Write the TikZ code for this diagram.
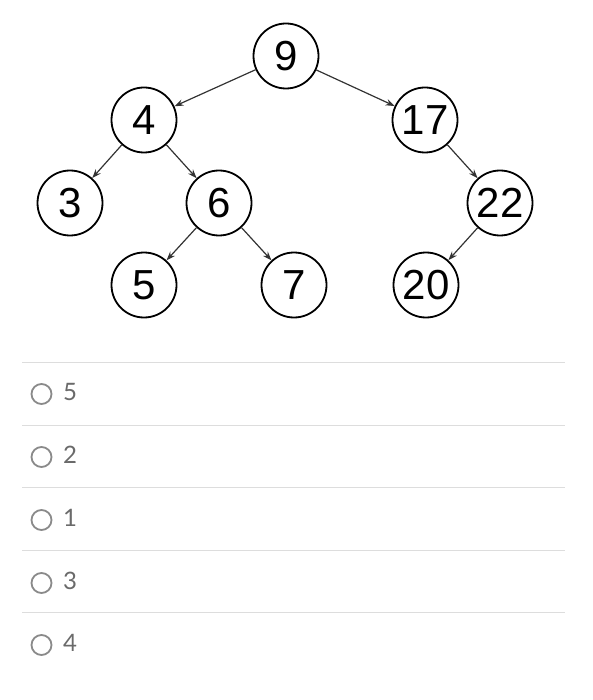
\documentclass[tikz,border=0pt]{standalone}
\usepackage{fontspec}
\usetikzlibrary{arrows.meta}
\newfontfamily\treefont{Liberation Sans}
\newfontfamily\optfont{Lato}
\definecolor{edgegray}{HTML}{333333}
\definecolor{rulegray}{HTML}{DDDDDD}
\definecolor{radiogray}{HTML}{8A8A8A}
\definecolor{optgray}{HTML}{6A6A6A}
\tikzset{
	vertex/.style={circle, draw=black, line width=1.8pt, minimum size=65pt, inner sep=0pt, font=\treefont\fontsize{42}{42}\selectfont},
	edge/.style={-{Stealth[length=9pt, width=6.5pt]}, edgegray, line width=1.2pt},
	radio/.style={circle, draw=radiogray, line width=1.8pt, minimum size=20pt, inner sep=0pt},
	option/.style={right, inner sep=0pt, optgray, font=\optfont\fontsize{24}{24}\selectfont},
	sep/.style={rulegray, line width=1pt}
}
\begin{document}
\begin{tikzpicture}[x=1pt, y=-1pt]
				\useasboundingbox (0,0) rectangle (592,700);
				\node[vertex] (n9) at (286,56) {9};
				\node[vertex] (n4) at (144,120) {4};
				\node[vertex] (n17) at (425,120) {17};
				\node[vertex] (n3) at (70,203) {3};
				\node[vertex] (n6) at (219,203) {6};
				\node[vertex] (n22) at (500,203) {22};
				\node[vertex] (n5) at (144,285) {5};
				\node[vertex] (n7) at (294,285) {7};
				\node[vertex] (n20) at (426,285) {20};
				\draw[edge] (n9)--(n4);
				\draw[edge] (n9)--(n17);
				\draw[edge] (n4)--(n3);
				\draw[edge] (n4)--(n6);
				\draw[edge] (n6)--(n5);
				\draw[edge] (n6)--(n7);
				\draw[edge] (n17)--(n22);
				\draw[edge] (n22)--(n20);
				\coordinate (s1l) at (22,362); \coordinate (s1r) at (565,362);
				\coordinate (s2l) at (22,425); \coordinate (s2r) at (565,425);
				\coordinate (s3l) at (22,487); \coordinate (s3r) at (565,487);
				\coordinate (s4l) at (22,550); \coordinate (s4r) at (565,550);
				\coordinate (s5l) at (22,612); \coordinate (s5r) at (565,612);
				\draw[sep] (s1l)--(s1r);
				\draw[sep] (s2l)--(s2r);
				\draw[sep] (s3l)--(s3r);
				\draw[sep] (s4l)--(s4r);
				\draw[sep] (s5l)--(s5r);
				\node[radio] (r1) at (41.5,394) {};
				\node[radio] (r2) at (41.5,457) {};
				\node[radio] (r3) at (41.5,520) {};
				\node[radio] (r4) at (41.5,583) {};
				\node[radio] (r5) at (41.5,645) {};
				\node[option] (o1) at (63,392) {5};
				\node[option] (o2) at (63,455) {2};
				\node[option] (o3) at (63,518) {1};
				\node[option] (o4) at (63,581) {3};
				\node[option] (o5) at (63,643) {4};
			\end{tikzpicture}
\end{document}
